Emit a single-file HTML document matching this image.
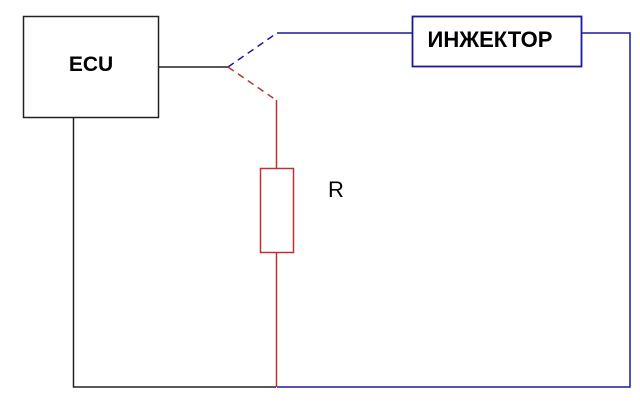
<!DOCTYPE html>
<html><head><style>body{margin:0;background:#fff}</style></head><body>
<svg width="640" height="411" xmlns="http://www.w3.org/2000/svg" style="display:block">
<rect width="640" height="411" fill="#fff"/>
<rect x="23.5" y="16.5" width="135" height="101" fill="none" stroke="#222" stroke-width="1.5"/>
<text x="91" y="71" font-family="Liberation Sans, sans-serif" font-weight="bold" font-size="21" text-anchor="middle" fill="#000">ECU</text>
<line x1="158" y1="67" x2="228" y2="67" stroke="#222" stroke-width="1.5"/>
<line x1="228" y1="67" x2="277" y2="33" stroke="#1a1aa0" stroke-width="1.5" stroke-dasharray="7,5"/>
<polyline points="277,33 412,33" fill="none" stroke="#1a1aa0" stroke-width="1.5"/>
<rect x="412.5" y="16.5" width="169" height="50" fill="none" stroke="#1a1aa0" stroke-width="1.8"/>
<text x="490" y="47" font-family="Liberation Sans, sans-serif" font-weight="bold" font-size="22" text-anchor="middle" fill="#000">ИНЖЕКТОР</text>
<polyline points="581,33 630,33 630,387 277,387" fill="none" stroke="#1a1aa0" stroke-width="1.5"/>
<line x1="228" y1="67" x2="276" y2="100" stroke="#c03030" stroke-width="1.5" stroke-dasharray="7,5"/>
<line x1="276.5" y1="100" x2="276.5" y2="387" stroke="#c03030" stroke-width="1.5"/>
<rect x="260.5" y="168.5" width="33" height="84" fill="#fff" stroke="#c03030" stroke-width="1.5"/>
<text x="328" y="197" font-family="Liberation Sans, sans-serif" font-size="22" fill="#000">R</text>
<polyline points="73.5,117 73.5,387 276,387" fill="none" stroke="#222" stroke-width="1.5"/>
</svg>
</body></html>
